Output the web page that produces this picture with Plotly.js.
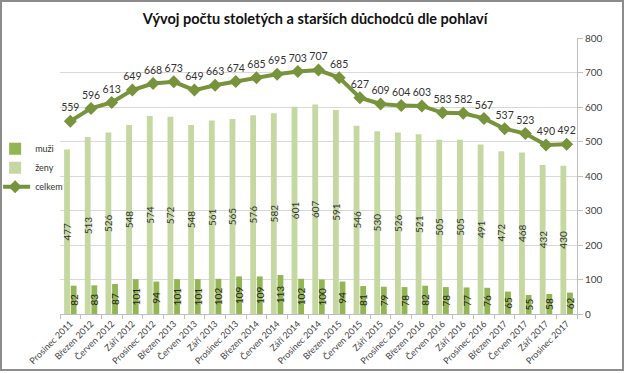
<!DOCTYPE html>
<html>
<head>
<meta charset="utf-8">
<script src="https://cdn.plot.ly/plotly-3.0.1.min.js"></script>
<style>
  html, body { margin: 0; padding: 0; background: #fff; }
  #chart { position: absolute; left: 0; top: 0; width: 620px; height: 367px; border: 2px solid #8c8c8c; }
</style>
</head>
<body>
<div id="chart"></div>
<script>
const categories = ["Prosinec 2011","Březen 2012","Červen 2012","Září 2012","Prosinec 2012","Březen 2013","Červen 2013","Září 2013","Prosinec 2013","Březen 2014","Červen 2014","Září 2014","Prosinec 2014","Březen 2015","Červen 2015","Září 2015","Prosinec 2015","Březen 2016","Červen 2016","Září 2016","Prosinec 2016","Březen 2017","Červen 2017","Září 2017","Prosinec 2017"];
const muzi = [82,83,87,101,94,101,101,102,109,109,113,102,100,94,81,79,78,82,78,77,76,65,55,58,62];
const zeny = [477,513,526,548,574,572,548,561,565,576,582,601,607,591,546,530,526,521,505,505,491,472,468,432,430];
const celkem = [559,596,613,649,668,673,649,663,674,685,695,703,707,685,627,609,604,603,583,582,567,537,523,490,492];
const yTicks = [0,100,200,300,400,500,600,700,800];

const FONT = "Lato, 'Open Sans', sans-serif";

const traces = [
  { type: 'bar', name: 'ženy', x: categories, y: zeny, marker: { color: '#c6d8a2' },
    text: zeny.map(String), textposition: 'inside', insidetextanchor: 'middle',
    textangle: -90, constraintext: 'none', textfont: { size: 10, color: '#333', family: FONT }, legendrank: 2 },
  { type: 'bar', name: 'muži', x: categories, y: muzi, marker: { color: '#93b553' },
    text: muzi.map(String), textposition: 'inside', insidetextanchor: 'middle',
    textangle: -90, constraintext: 'none', textfont: { size: 10, color: '#222', family: FONT }, legendrank: 1 },
  { type: 'scatter', name: 'celkem', x: categories, y: celkem, mode: 'lines+markers+text',
    line: { color: '#77933c', width: 4 }, marker: { symbol: 'diamond', size: 10, color: '#77933c' },
    text: celkem.map(String), textposition: 'top center', cliponaxis: false,
    textfont: { size: 10.5, color: '#333', family: FONT }, legendrank: 3 }
];

const layout = {
  width: 620, height: 367,
  margin: { l: 58, r: 45, t: 36, b: 55, autoexpand: false },
  paper_bgcolor: '#fff', plot_bgcolor: '#fff',
  font: { family: FONT, color: '#333' },
  title: { text: '<b>Vývoj počtu stoletých a starších důchodců dle pohlaví</b>', font: { size: 14.5, color: '#111', family: FONT },
    x: 0.505, xref: 'container', xanchor: 'center', y: 0.955, yref: 'container', yanchor: 'middle' },
  barmode: 'group', bargap: 0.36, bargroupgap: 0.12,
  showlegend: true,
  legend: { x: -0.11, xanchor: 'left', y: 0.53, yanchor: 'middle', font: { size: 9, color: '#333', family: FONT },
    traceorder: 'normal', itemwidth: 30, tracegroupgap: 0, indentation: -8, bgcolor: 'rgba(0,0,0,0)' },
  xaxis: { type: 'category', range: [-0.5, categories.length - 0.5], tickangle: -45, automargin: false,
    tickfont: { size: 9, color: '#444', family: FONT },
    showline: true, linecolor: '#bfbfbf', ticks: 'outside', tickson: 'boundaries', ticklen: 4, tickcolor: '#bfbfbf',
    showgrid: false, fixedrange: true },
  yaxis: { side: 'right', range: [0, 800], tickvals: yTicks, ticktext: yTicks.map(String), automargin: false,
    tickfont: { size: 10, color: '#444', family: FONT },
    showline: true, linecolor: '#bfbfbf', ticks: 'outside', ticklen: 5, tickcolor: '#bfbfbf',
    gridcolor: '#d9d9d9', zeroline: false, fixedrange: true }
};

Plotly.newPlot('chart', traces, layout, { displayModeBar: false, staticPlot: true });
</script>
</body>
</html>
